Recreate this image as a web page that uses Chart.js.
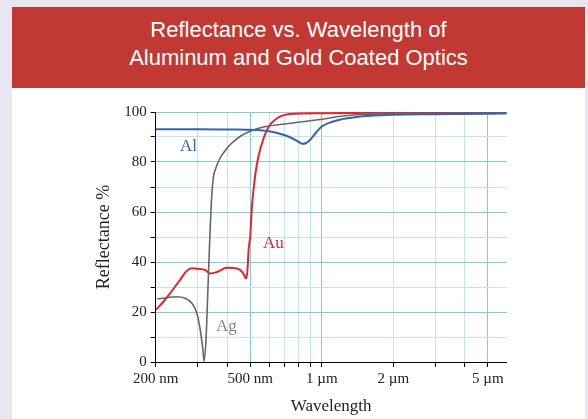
<!DOCTYPE html>
<html>
<head>
<meta charset="utf-8">
<script src="https://cdn.jsdelivr.net/npm/chart.js@4/dist/chart.umd.min.js"></script>
<style>
  html, body { margin:0; padding:0; }
  body { width:588px; height:419px; background:#e7e7f1; position:relative; overflow:hidden; }
  #header { position:absolute; left:12px; top:7px; width:573px; height:81px; background:#c23934;
            color:#fff; font-family:"Liberation Sans", Arial, sans-serif; font-size:22px; line-height:28px;
            text-align:center; box-sizing:border-box; padding-top:9px; }
  #panel { position:absolute; left:12px; top:88px; width:573px; height:331px; background:#fff; }
</style>
</head>
<body>
<div id="header">Reflectance vs. Wavelength of<br>Aluminum and Gold Coated Optics</div>
<div id="panel"><canvas id="c"></canvas></div>
<script>
// ---- data (wavelength in nm, reflectance in %) ----
const alWavelength = [200,300,400,500,550,600,650,700,750,800,830,860,900,950,1000,1100,1200,1400,1600,2000,3000,4000,5000,6000];
const alReflect    = [93.1,93.1,93.0,92.9,92.7,92.3,91.6,90.7,89.5,88.0,87.3,87.6,89.2,92.0,94.2,96.0,97.0,98.0,98.5,98.9,99.1,99.2,99.3,99.4];

const auWavelength = [200,215,230,253,270,284,300,323,339,362,399,439,461,472,480,486,492,500,508,525,542,569,597,648,737,1000,2000,6000];
const auReflect    = [20.8,24.0,27.5,32.8,36.4,37.5,37.3,36.8,35.4,36.0,37.7,37.4,36.2,34.6,33.4,36.0,44.8,50.5,62.0,75.0,82.5,89.5,94.0,97.5,99.2,99.5,99.7,99.8];

const agWavelength = [203,225,245,266,284,298,308,315,320,326,332,338,344,350,358,373,399,412,454,500,569,737,1020,1200,1456,2000,6000];
const agReflect    = [25.2,25.8,26.1,25.5,23.5,19.5,12.8,6.0,0.3,10,30,50,66,74,77.5,81.5,85.5,87,90.3,92.3,94,95.5,97.2,98.3,99.0,99.3,99.6];

const xTickValues = [200,300,400,500,600,700,800,900,1000,2000,3000,4000,5000];
const xTickLabels = {200:'200 nm', 500:'500 nm', 1000:'1 \u00b5m', 2000:'2 \u00b5m', 5000:'5 \u00b5m'};
const xMajorGrid  = [500,1000,5000];
const yLabelledTicks = [0,20,40,60,80,100];

const curveLabels = [
  {text:'Al', wavelength:275, reflect:86.1, color:'#3a68ab'},
  {text:'Au', wavelength:625, reflect:47.2, color:'#e3252c'},
  {text:'Ag', wavelength:397, reflect:14.1, color:'#858585'}
];

const toPts = (xs, ys) => xs.map((x,i)=>({x:x, y:ys[i]}));

const labelPlugin = {
  id:'curveLabels',
  afterDatasetsDraw(chart){
    const {ctx, scales:{x,y}} = chart;
    ctx.save();
    ctx.font = '17px "Liberation Serif", "Times New Roman", serif';
    ctx.textAlign = 'center';
    ctx.textBaseline = 'middle';
    curveLabels.forEach(l=>{
      ctx.fillStyle = l.color;
      ctx.fillText(l.text, x.getPixelForValue(l.wavelength), y.getPixelForValue(l.reflect));
    });
    ctx.restore();
  }
};

const serif = '"Liberation Serif", "Times New Roman", serif';

new Chart(document.getElementById('c'), {
  type:'line',
  data:{
    datasets:[
      {label:'Al', data:toPts(alWavelength, alReflect), borderColor:'#3565a8', borderWidth:2},
      {label:'Ag', data:toPts(agWavelength, agReflect), borderColor:'#666666', borderWidth:1.6},
      {label:'Au', data:toPts(auWavelength, auReflect), borderColor:'#e8232b', borderWidth:2}
    ]
  },
  options:{
    responsive:true,
    maintainAspectRatio:false,
    animation:false,
    devicePixelRatio:1,
    elements:{ point:{radius:0}, line:{cubicInterpolationMode:'monotone', fill:false} },
    layout:{ padding:{left:0, right:78.3, top:24, bottom:0} },
    plugins:{ legend:{display:false}, tooltip:{enabled:false} },
    scales:{
      x:{
        type:'logarithmic', min:200, max:6000,
        afterFit(s){ s.height = 57; },
        afterBuildTicks(s){ s.ticks = xTickValues.map(v=>({value:v})); },
        ticks:{ autoSkip:false, maxRotation:0, minRotation:0, padding:3, color:'#222',
                font:{family:serif, size:15},
                callback:(v)=> xTickLabels[v] || '' },
        grid:{ color:(c)=> (c.tick && xMajorGrid.includes(c.tick.value)) ? '#82c9dc' : '#c4e5ef',
               tickColor:'#000', tickLength:5, lineWidth:1 },
        border:{ color:'#000', width:1 },
        title:{ display:true, text:'Wavelength', color:'#222', font:{family:serif, size:17},
                padding:{top:0, bottom:2} }
      },
      y:{
        min:0, max:100,
        afterFit(s){ s.width = 143.7; },
        ticks:{ stepSize:10, padding:4, color:'#222', font:{family:serif, size:15},
                callback:(v)=> yLabelledTicks.includes(v) ? String(v) : '' },
        grid:{ color:(c)=> (c.tick && yLabelledTicks.includes(c.tick.value)) ? '#82c9dc' : '#c4e5ef',
               tickColor:'#000', tickLength:5, lineWidth:1 },
        border:{ color:'#000', width:1 },
        title:{ display:true, text:'Reflectance %', color:'#222', font:{family:serif, size:18},
                padding:{top:81, bottom:0} }
      }
    }
  },
  plugins:[labelPlugin]
});
</script>
</body>
</html>
